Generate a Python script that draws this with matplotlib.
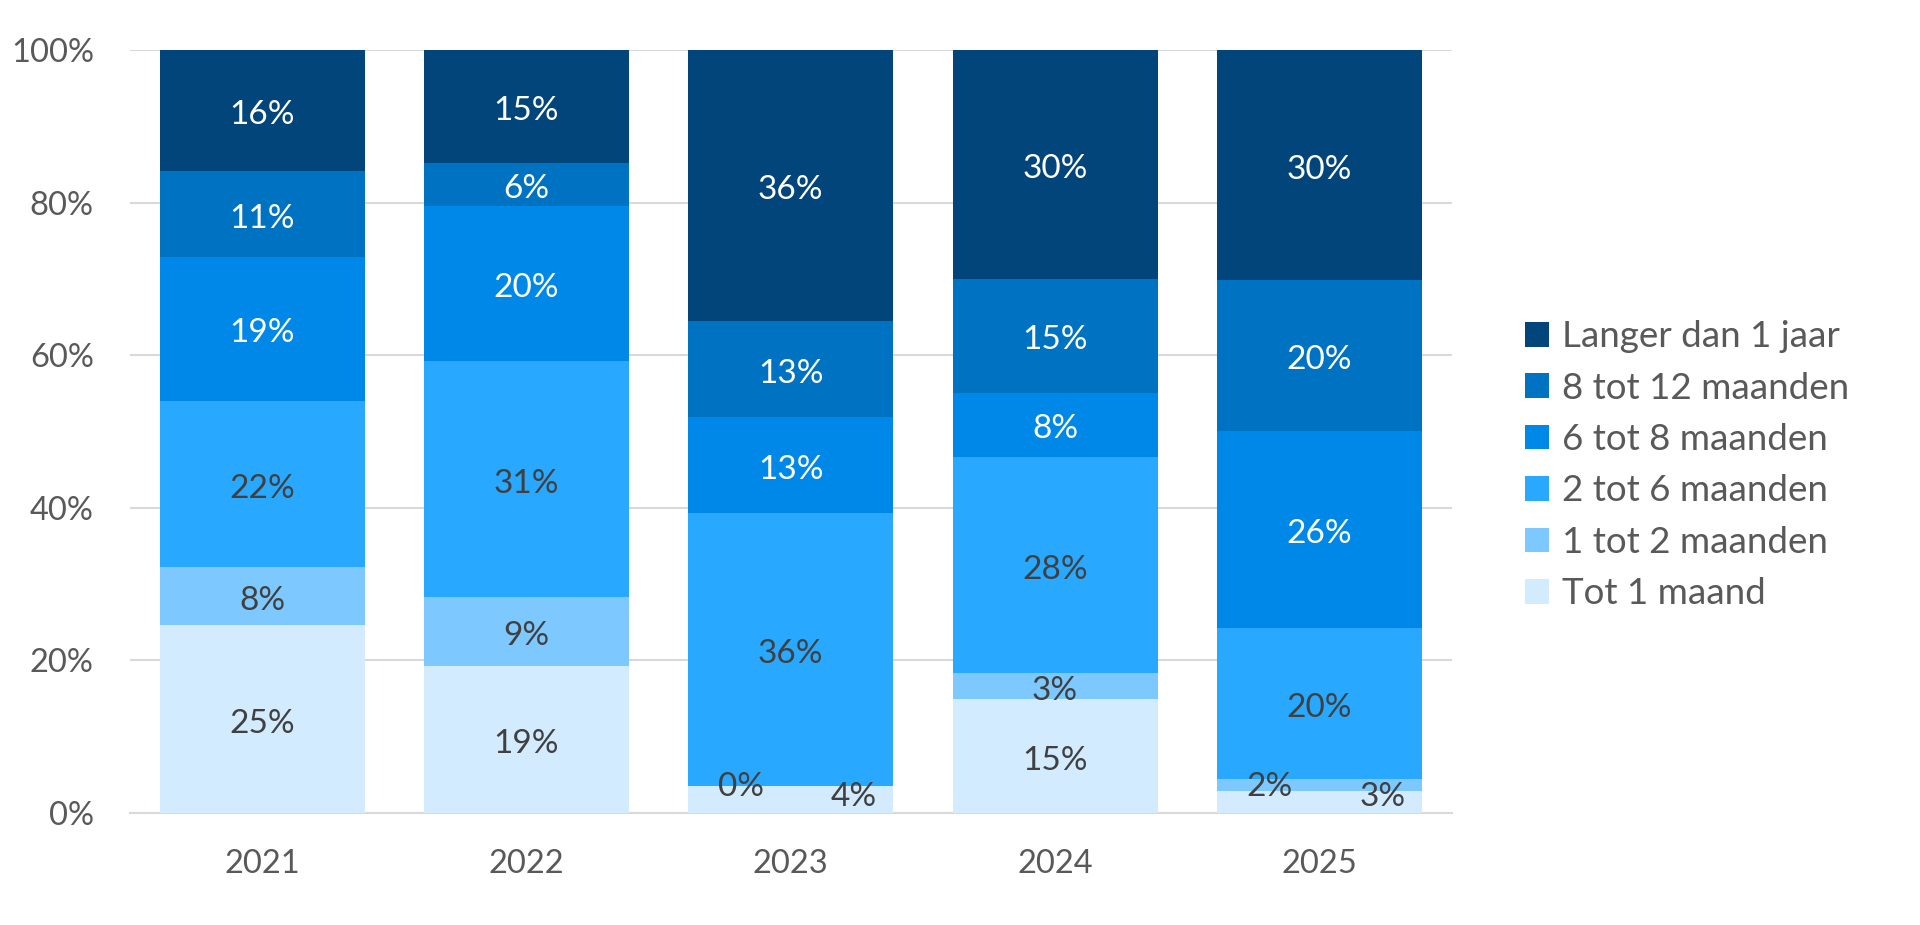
import numpy as np
import matplotlib
matplotlib.use('Agg')
import matplotlib.pyplot as plt

plt.rcParams['font.family'] = ['Lato', 'DejaVu Sans']

years = ['2021', '2022', '2023', '2024', '2025']
categories = ['Tot 1 maand', '1 tot 2 maanden', '2 tot 6 maanden',
              '6 tot 8 maanden', '8 tot 12 maanden', 'Langer dan 1 jaar']
# percentages per category, one value per year (bottom to top of stack)
tot_1_maand = [24.6, 19.3, 3.5, 14.9, 2.9]
m1_2 = [7.6, 9.0, 0.0, 3.4, 1.6]
m2_6 = [21.8, 30.9, 35.8, 28.4, 19.7]
m6_8 = [18.9, 20.4, 12.6, 8.4, 25.9]
m8_12 = [11.2, 5.6, 12.6, 14.9, 19.7]
langer = [15.9, 14.8, 35.5, 30.0, 30.2]
series = [tot_1_maand, m1_2, m2_6, m6_8, m8_12, langer]

colors = ['#D2EBFF', '#7DC9FF', '#29A8FF', '#0088E8', '#0072C2', '#02457A']
txt_col = ['#404040', '#404040', '#404040', 'white', 'white', 'white']
# nudges (dx in bar units, y in %) for labels of very thin segments
nudge = {(0, 2): (0.24, 2.1), (1, 2): (-0.19, 3.4),
         (0, 4): (0.24, 2.1), (1, 4): (-0.19, 3.4)}

fig = plt.figure(figsize=(19.2, 9.25), dpi=100)
ax = fig.add_axes([0.0677, 0.121, 0.6883, 0.825])

x = np.arange(len(years))
bottom = np.zeros(len(years))
handles = []
for i, (vals, col) in enumerate(zip(series, colors)):
    v = np.array(vals)
    b = ax.bar(x, v, 0.776, bottom=bottom, color=col, zorder=3, label=categories[i])
    handles.append(b)
    for j in range(len(years)):
        if (i, j) in nudge:
            dx, yy = nudge[(i, j)]
            px, py = x[j] + dx, yy
        else:
            px, py = x[j], bottom[j] + v[j] / 2 - 0.6
        ax.text(px, py, f"{v[j]:.0f}%", ha='center', va='center',
                color=txt_col[i], fontsize=24, zorder=4)
    bottom += v

ax.set_xlim(-0.5, 4.5)
ax.set_ylim(0, 100)
ax.set_yticks(np.arange(0, 101, 20))
ax.set_yticklabels([f"{t}%" for t in range(0, 101, 20)])
ax.set_xticks(x)
ax.set_xticklabels(years)
ax.grid(axis='y', color='#D9D9D9', lw=1.5, zorder=0)
for s in ['top', 'right', 'left']:
    ax.spines[s].set_visible(False)
ax.spines['bottom'].set_color('#D9D9D9')
ax.spines['bottom'].set_linewidth(1.5)
ax.tick_params(length=0, labelsize=23.5, labelcolor='#595959', pad=26)

lg = fig.legend(handles[::-1], categories[::-1], loc='center left',
                bbox_to_anchor=(0.777, 0.497), frameon=False, fontsize=26.5,
                handlelength=0.65, handleheight=0.65, handletextpad=0.35,
                labelspacing=0.5)
for t in lg.get_texts():
    t.set_color('#595959')

fig.savefig('out.png', dpi=100, facecolor='white')
